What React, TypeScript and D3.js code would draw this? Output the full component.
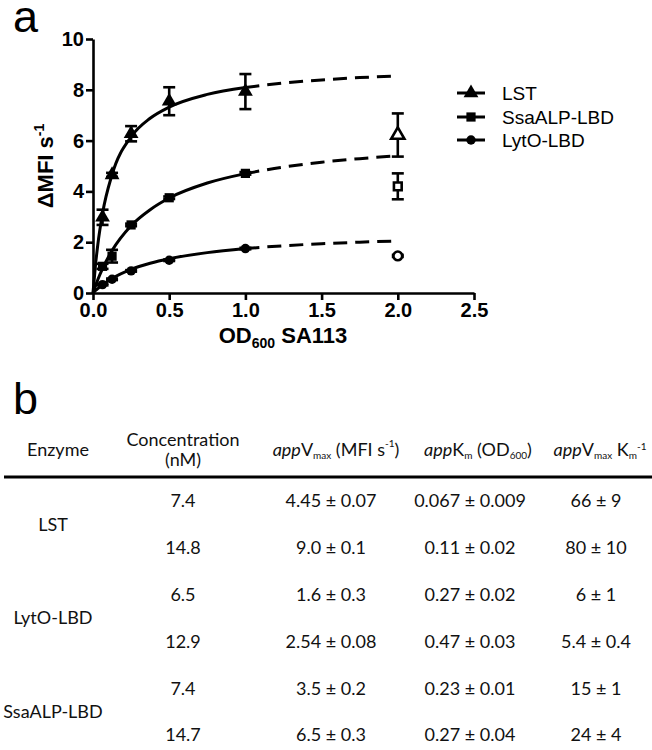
import { useEffect, useRef } from "react";
import * as d3 from "d3";

// measured substrate concentrations (OD600)
const odValues = [0.0625, 0.125, 0.25, 0.5, 1.0];
const lstMean = [2.98, 4.65, 6.27, 7.55, 7.93];
const lstErr = [0.3, 0.08, 0.3, 0.55, 0.69];
const ssaMean = [1.05, 1.45, 2.68, 3.75, 4.71];
const ssaErr = [0.1, 0.25, 0.05, 0.05, 0.05];
const lytMean = [0.33, 0.54, 0.87, 1.29, 1.75];
const lytErr = [0.03, 0.03, 0.03, 0.03, 0.03];

// excluded high point at OD600 = 2.0 (LST, SsaALP-LBD, LytO-LBD)
const highOd = 2.0;
const highMean = [6.22, 4.2, 1.46];
const highErr = [0.85, 0.51, 0.04];

// fitted curves
const fitX = [0, 0.015, 0.03125, 0.0625, 0.125, 0.25, 0.375, 0.5, 0.75, 1.0];
const lstFit = [0, 1.02, 1.89, 3.13, 4.66, 6.15, 6.88, 7.32, 7.82, 8.09];
const ssaFit = [0, 0.26, 0.52, 0.96, 1.67, 2.65, 3.28, 3.74, 4.33, 4.7];
const lytFit = [0, 0.09, 0.17, 0.32, 0.57, 0.93, 1.17, 1.35, 1.59, 1.75];
const extX = [1.0, 1.25, 1.5, 1.75, 2.0];
const lstExt = [8.09, 8.27, 8.39, 8.48, 8.55];
const ssaExt = [4.7, 4.96, 5.15, 5.29, 5.4];
const lytExt = [1.75, 1.86, 1.94, 2.0, 2.05];

const seriesNames = ["LST", "SsaALP-LBD", "LytO-LBD"];
const xTicks = [0, 0.5, 1.0, 1.5, 2.0, 2.5];
const yTicks = [0, 2, 4, 6, 8, 10];

// table b
const enzymes = ["LST", "LytO-LBD", "SsaALP-LBD"];
const concentrations = ["7.4", "14.8", "6.5", "12.9", "7.4", "14.7"];
const vmaxValues = ["4.45 ± 0.07", "9.0 ± 0.1", "1.6 ± 0.3", "2.54 ± 0.08", "3.5 ± 0.2", "6.5 ± 0.3"];
const kmValues = ["0.067 ± 0.009", "0.11 ± 0.02", "0.27 ± 0.02", "0.47 ± 0.03", "0.23 ± 0.01", "0.27 ± 0.04"];
const ratioValues = ["66 ± 9", "80 ± 10", "6 ± 1", "5.4 ± 0.4", "15 ± 1", "24 ± 4"];

export default function App() {
  const ref = useRef<SVGSVGElement>(null);

  useEffect(() => {
    if (!ref.current) return;
    const svg = d3.select(ref.current);
    svg.selectAll("*").remove();

    const chartFont = "'Liberation Sans', Arial, sans-serif";
    const tableFont = "Lato, 'Open Sans', sans-serif";

    const x = d3.scaleLinear().domain([0, 2.5]).range([93, 474]);
    const y = d3.scaleLinear().domain([0, 10]).range([293, 39]);

    // panel letters
    svg.append("text").attr("x", 13).attr("y", 32).attr("font-family", chartFont)
      .attr("font-size", 45).text("a");
    svg.append("text").attr("x", 13).attr("y", 414).attr("font-family", chartFont)
      .attr("font-size", 45).text("b");

    // axes
    const yAxis = svg.append("g").attr("transform", `translate(${x(0)},0)`)
      .call(d3.axisLeft(y).tickValues(yTicks).tickSize(7).tickSizeOuter(0).tickPadding(2));
    const xAxis = svg.append("g").attr("transform", `translate(0,${y(0)})`)
      .call(d3.axisBottom(x).tickValues(xTicks).tickSize(7).tickSizeOuter(0).tickPadding(3)
        .tickFormat(d3.format(".1f")));
    [xAxis, yAxis].forEach((g) => {
      g.selectAll("path, line").attr("stroke", "#000").attr("stroke-width", 2.6);
      g.selectAll("text").attr("font-family", chartFont).attr("font-weight", "bold")
        .attr("font-size", 20).attr("fill", "#000");
    });

    // axis titles
    const yl = svg.append("text").attr("transform", `translate(53,166) rotate(-90)`)
      .attr("text-anchor", "middle").attr("font-family", chartFont).attr("font-weight", "bold")
      .attr("font-size", 22);
    yl.append("tspan").text("ΔMFI s");
    yl.append("tspan").attr("dy", -9).attr("font-size", 14).text("-1");

    const xl = svg.append("text").attr("x", 283).attr("y", 343).attr("text-anchor", "middle")
      .attr("font-family", chartFont).attr("font-weight", "bold").attr("font-size", 22);
    xl.append("tspan").text("OD");
    xl.append("tspan").attr("dy", 5).attr("font-size", 14).text("600");
    xl.append("tspan").attr("dy", -5).text(" SA113");

    // curves
    const line = d3.line<[number, number]>().x((d) => x(d[0])).y((d) => y(d[1]))
      .curve(d3.curveMonotoneX);
    const fits = [lstFit, ssaFit, lytFit];
    const exts = [lstExt, ssaExt, lytExt];
    fits.forEach((f) => {
      svg.append("path").attr("d", line(fitX.map((v, i) => [v, f[i]]))).attr("fill", "none")
        .attr("stroke", "#000").attr("stroke-width", 3);
    });
    exts.forEach((f) => {
      svg.append("path").attr("d", line(extX.map((v, i) => [v, f[i]]))).attr("fill", "none")
        .attr("stroke", "#000").attr("stroke-width", 3).attr("stroke-dasharray", "14,8");
    });

    // error bars
    const errBar = (xv: number, m: number, e: number) => {
      const g = svg.append("g").attr("stroke", "#000").attr("stroke-width", 2.6);
      g.append("line").attr("x1", x(xv)).attr("x2", x(xv)).attr("y1", y(m - e)).attr("y2", y(m + e));
      [m - e, m + e].forEach((v) => {
        g.append("line").attr("x1", x(xv) - 6).attr("x2", x(xv) + 6).attr("y1", y(v)).attr("y2", y(v));
      });
    };
    const means = [lstMean, ssaMean, lytMean];
    const errs = [lstErr, ssaErr, lytErr];
    means.forEach((m, s) => m.forEach((v, i) => errBar(odValues[i], v, errs[s][i])));
    highMean.forEach((v, s) => errBar(highOd, v, highErr[s]));

    // markers
    const symbols = [
      d3.symbol().type(d3.symbolTriangle).size(95),
      d3.symbol().type(d3.symbolSquare).size(85),
      d3.symbol().type(d3.symbolCircle).size(70),
    ];
    means.forEach((m, s) => m.forEach((v, i) => {
      svg.append("path").attr("d", symbols[s]()).attr("transform", `translate(${x(odValues[i])},${y(v)})`)
        .attr("fill", "#000");
    }));
    const openSymbols = [
      d3.symbol().type(d3.symbolTriangle).size(75),
      d3.symbol().type(d3.symbolSquare).size(60),
      d3.symbol().type(d3.symbolCircle).size(60),
    ];
    highMean.forEach((v, s) => {
      svg.append("path").attr("d", openSymbols[s]()).attr("transform", `translate(${x(highOd)},${y(v)})`)
        .attr("fill", "#fff").attr("stroke", "#000").attr("stroke-width", 2.6);
    });

    // legend
    seriesNames.forEach((name, s) => {
      const ly = [93, 117, 140][s];
      svg.append("line").attr("x1", 457).attr("x2", 485).attr("y1", ly).attr("y2", ly)
        .attr("stroke", "#000").attr("stroke-width", 3);
      svg.append("path").attr("d", symbols[s]()).attr("transform", `translate(471,${ly})`).attr("fill", "#000");
      svg.append("text").attr("x", 502).attr("y", ly).attr("dy", "0.36em").attr("font-family", chartFont)
        .attr("font-size", 19).text(name);
    });

    // table
    const colX = [53, 183, 331, 470, 596];
    const rowY = d3.scaleLinear().domain([0, 5]).range([501, 735]);
    const t = svg.append("g").attr("font-family", tableFont).attr("font-size", 18).attr("fill", "#111");

    t.append("text").attr("x", 58).attr("y", 456).attr("text-anchor", "middle").text("Enzyme");
    t.append("text").attr("x", 183).attr("y", 446).attr("text-anchor", "middle").text("Concentration");
    t.append("text").attr("x", 183).attr("y", 466).attr("text-anchor", "middle").text("(nM)");

    const head = (cx: number, parts: [string, string][]) => {
      const tx = t.append("text").attr("x", cx).attr("y", 456).attr("text-anchor", "middle");
      parts.forEach(([txt, kind]) => {
        const sp = tx.append("tspan").text(txt);
        if (kind === "i") sp.attr("font-style", "italic");
        if (kind === "sub") sp.attr("font-size", 10).attr("dy", 3);
        if (kind === "up") sp.attr("dy", -3);
        if (kind === "sup") sp.attr("font-size", 10).attr("dy", -9);
        if (kind === "down") sp.attr("dy", 9);
      });
    };
    head(336, [["app", "i"], ["V", ""], ["max", "sub"], [" (MFI s", "up"], ["-1", "sup"], [")", "down"]]);
    head(478, [["app", "i"], ["K", ""], ["m", "sub"], [" (OD", "up"], ["600", "sub"], [")", "up"]]);
    head(600, [["app", "i"], ["V", ""], ["max", "sub"], [" K", "up"], ["m", "sub"], ["-1", "sup"]]);

    svg.append("line").attr("x1", 4).attr("x2", 652).attr("y1", 477).attr("y2", 477)
      .attr("stroke", "#000").attr("stroke-width", 3);

    const cols = [concentrations, vmaxValues, kmValues, ratioValues];
    cols.forEach((vals, c) => vals.forEach((v, r) => {
      t.append("text").attr("x", colX[c + 1]).attr("y", rowY(r)).attr("dy", "0.35em")
        .attr("text-anchor", "middle").text(v);
    }));
    enzymes.forEach((e, i) => {
      t.append("text").attr("x", colX[0]).attr("y", (rowY(i * 2) + rowY(i * 2 + 1)) / 2).attr("dy", "0.35em")
        .attr("text-anchor", "middle").text(e);
    });
  }, []);

  return (
    <svg ref={ref} width={652} height={750}
      style={{ position: "absolute", left: 0, top: 0, background: "#fff" }} />
  );
}
